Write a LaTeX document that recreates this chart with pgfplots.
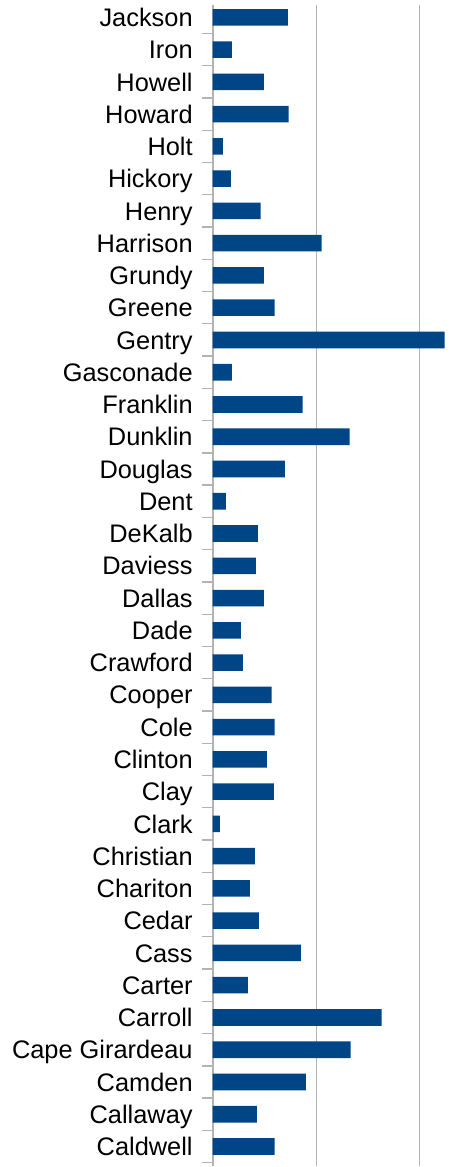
\documentclass[border=0pt]{standalone}
\usepackage{pgfplots}
\pgfplotsset{compat=1.18}
\usepackage{pgfplotstable}
\usepackage{fontspec}
\setmainfont{Liberation Sans}
\definecolor{barblue}{HTML}{004586}
\definecolor{gridgray}{HTML}{B3B3B3}
\pgfplotstableread{
idx val
0 60.0
1 42.7
2 89.9
3 133.2
4 163.1
5 34.0
6 85.1
7 44.6
8 36.0
9 40.8
10 7.1
11 59.1
12 52.3
13 60.0
14 57.1
15 29.2
16 27.3
17 49.4
18 41.7
19 43.7
20 12.8
21 69.7
22 132.3
23 87.0
24 18.6
25 223.8
26 60.0
27 49.4
28 105.3
29 46.5
30 17.7
31 10.0
32 73.5
33 49.4
34 18.6
35 72.6
}\datatable
\begin{document}
\begin{tikzpicture}
\begin{axis}[
  scale only axis,
  width=244.3pt, height=1161.9pt,
  xmin=0, xmax=235.35,
  ymin=-0.604, ymax=35.38,
  xbar, bar width=16.6pt,
  axis lines*=left,
  x axis line style={draw=none},
  y axis line style={draw=gridgray, line width=2pt},
  xtick={100,200}, xticklabels={}, major x tick style={draw=none},
  xticklabel style={overlay},
  xmajorgrids, grid style={gridgray, line width=1pt},
  ytick={0,...,35},
  yticklabels={Caldwell,Callaway,Camden,Cape Girardeau,Carroll,Carter,Cass,Cedar,Chariton,Christian,Clark,Clay,Clinton,Cole,Cooper,Crawford,Dade,Dallas,Daviess,DeKalb,Dent,Douglas,Dunklin,Franklin,Gasconade,Gentry,Greene,Grundy,Harrison,Henry,Hickory,Holt,Howard,Howell,Iron,Jackson},
  major y tick style={draw=none},
  major tick length=0pt,
  minor ytick={-0.5,0.5,...,34.5},
  minor y tick style={draw=gridgray, line width=1.3pt},
  minor tick length=11pt,
  tick align=outside,
  yticklabel style={anchor=east, inner sep=0pt, xshift=-19.7pt, text height=18.3pt, text depth=0pt, font=\fontsize{25.4}{30}\selectfont},
  clip=false,
]
\addplot[fill=barblue, draw=none] table[x=val, y=idx] {\datatable};
\end{axis}
\path (current axis.south west) ++(-212.7pt,0pt) coordinate (bbA);
\path (current axis.north east) ++(0pt,5.1pt) coordinate (bbB);
\path (bbA) rectangle (bbB);
\end{tikzpicture}
\end{document}
